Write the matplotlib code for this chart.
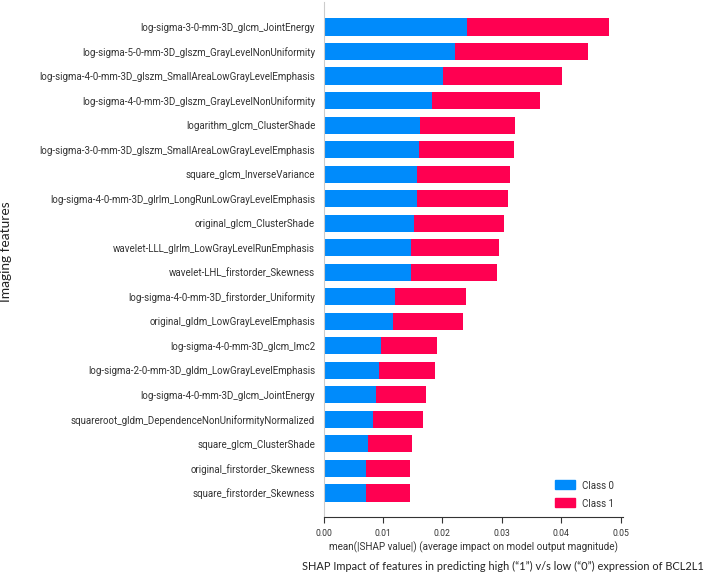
import matplotlib
matplotlib.use("Agg")
import matplotlib.pyplot as plt
from matplotlib.patches import Patch
import numpy as np

features = [
    "log-sigma-3-0-mm-3D_glcm_JointEnergy",
    "log-sigma-5-0-mm-3D_glszm_GrayLevelNonUniformity",
    "log-sigma-4-0-mm-3D_glszm_SmallAreaLowGrayLevelEmphasis",
    "log-sigma-4-0-mm-3D_glszm_GrayLevelNonUniformity",
    "logarithm_glcm_ClusterShade",
    "log-sigma-3-0-mm-3D_glszm_SmallAreaLowGrayLevelEmphasis",
    "square_glcm_InverseVariance",
    "log-sigma-4-0-mm-3D_glrlm_LongRunLowGrayLevelEmphasis",
    "original_glcm_ClusterShade",
    "wavelet-LLL_glrlm_LowGrayLevelRunEmphasis",
    "wavelet-LHL_firstorder_Skewness",
    "log-sigma-4-0-mm-3D_firstorder_Uniformity",
    "original_gldm_LowGrayLevelEmphasis",
    "log-sigma-4-0-mm-3D_glcm_Imc2",
    "log-sigma-2-0-mm-3D_gldm_LowGrayLevelEmphasis",
    "log-sigma-4-0-mm-3D_glcm_JointEnergy",
    "squareroot_gldm_DependenceNonUniformityNormalized",
    "square_glcm_ClusterShade",
    "original_firstorder_Skewness",
    "square_firstorder_Skewness",
]
class0 = [0.0241, 0.0222, 0.0201, 0.0182, 0.0162, 0.0160, 0.0157, 0.0157, 0.0152, 0.0148,
          0.0147, 0.0120, 0.0117, 0.0096, 0.0093, 0.0088, 0.0084, 0.0075, 0.0072, 0.0072]
total = [0.0481, 0.0445, 0.0402, 0.0364, 0.0323, 0.0320, 0.0313, 0.0311, 0.0304, 0.0296,
         0.0292, 0.0239, 0.0234, 0.0191, 0.0187, 0.0172, 0.0168, 0.0149, 0.0146, 0.0146]
class1 = [t - c for t, c in zip(total, class0)]
xticks = [0.00, 0.01, 0.02, 0.03, 0.04, 0.05]
class_names = ["Class 0", "Class 1"]
colors = ["#008bfb", "#ff0051"]

LABEL_FONT = "Roboto"
CAP_FONT = "Lato"
TXT = "#333333"

fig = plt.figure(figsize=(7.09, 5.80), dpi=100)
ax = fig.add_axes([0.4563, 0.1078, 0.8787 - 0.4563, 0.9957 - 0.1078])

n = len(features)
ypos = np.arange(n)[::-1]
ax.barh(ypos, class0, height=0.7, color=colors[0], left=0)
ax.barh(ypos, class1, height=0.7, color=colors[1], left=class0)

ax.set_ylim(-1, n)
ax.set_xlim(0, 0.0504)
ax.set_yticks(ypos)
ax.set_yticklabels(features, family=LABEL_FONT, fontsize=9, color=TXT)
ax.tick_params(axis="y", length=0, pad=6)
ax.set_xticks(xticks)
ax.set_xticklabels([f"{v:.2f}" for v in xticks], family=LABEL_FONT, fontsize=7.5, color=TXT)
ax.tick_params(axis="x", length=4, color=TXT, width=0.8, pad=4)
for s in ["top", "right"]:
    ax.spines[s].set_visible(False)
ax.spines["left"].set_color("#cccccc")
ax.spines["bottom"].set_color(TXT)
ax.spines["bottom"].set_linewidth(0.8)

xl = ax.set_xlabel("mean(|SHAP value|) (average impact on model output magnitude)",
                   family=LABEL_FONT, fontsize=9, color=TXT, labelpad=3)

handles = [Patch(color=colors[0], label=class_names[0]), Patch(color=colors[1], label=class_names[1])]
leg = ax.legend(handles=handles, loc="lower right", frameon=False,
                prop={"family": LABEL_FONT, "size": 9},
                handlelength=1.6, handleheight=0.8, borderaxespad=0.3,
                bbox_to_anchor=(1.0, 0.0), labelspacing=0.55, handletextpad=0.6)
for t in leg.get_texts():
    t.set_color(TXT)

ylab = fig.text(6 / 709, 1 - 252 / 580, "Imaging features", rotation=90, ha="center", va="center",
                family=CAP_FONT, fontsize=9.5, color="#222222")
cap = fig.text(503 / 709, 1 - 566 / 580,
               "SHAP Impact of features in predicting high (\u201c1\u201d) v/s low (\u201c0\u201d) expression of BCL2L1",
               ha="center", va="center", family=CAP_FONT, fontsize=9.5, color="#222222")

# fit text sizes to the reference's pixel widths
fig.canvas.draw()
r = fig.canvas.get_renderer()

def fit(t, target, horiz=True):
    bb = t.get_window_extent(r)
    w = bb.width if horiz else bb.height
    t.set_fontsize(t.get_fontsize() * target / w)

longest = ax.get_yticklabels()[2]
bb = longest.get_window_extent(r)
ys = 9 * 280.0 / bb.width
for t in ax.get_yticklabels():
    t.set_fontsize(ys)
for t in leg.get_texts():
    t.set_fontsize(ys)
xt0 = ax.get_xticklabels()[0]
xs = 7.5 * 17.0 / xt0.get_window_extent(r).width
for t in ax.get_xticklabels():
    t.set_fontsize(xs)
fit(xl, 291.0)
fit(cap, 400.0)
fit(ylab, 101.0, horiz=False)

fig.savefig("out.png", dpi=100)
